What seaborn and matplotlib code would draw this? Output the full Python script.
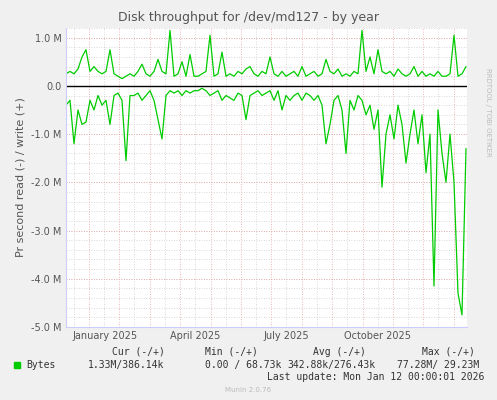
import numpy as np
import pandas as pd
import matplotlib
matplotlib.use("Agg")
import matplotlib.pyplot as plt
import seaborn as sns

write_m = [0.25,0.3,0.25,0.35,0.6,0.75,0.3,0.4,0.3,0.25,0.3,0.75,0.25,0.2,0.15,0.2,0.25,0.2,0.3,0.45,
           0.25,0.2,0.3,0.55,0.3,0.25,1.15,0.2,0.25,0.5,0.2,0.65,0.2,0.2,0.25,0.3,1.05,0.2,0.25,0.7,
           0.2,0.25,0.2,0.3,0.25,0.35,0.4,0.25,0.2,0.3,0.25,0.6,0.25,0.2,0.3,0.2,0.25,0.3,0.2,0.4,
           0.2,0.25,0.3,0.2,0.25,0.55,0.3,0.25,0.35,0.2,0.25,0.2,0.3,0.25,1.15,0.3,0.6,0.25,0.75,0.3,
           0.25,0.3,0.2,0.35,0.25,0.2,0.25,0.4,0.2,0.3,0.2,0.25,0.2,0.3,0.2,0.2,0.25,1.05,0.2,0.25,0.4]
read_m = [0.4,0.3,1.2,0.5,0.8,0.75,0.3,0.5,0.2,0.4,0.3,0.8,0.2,0.15,0.3,1.55,0.2,0.2,0.15,0.3,
          0.2,0.1,0.3,0.7,1.1,0.2,0.1,0.15,0.1,0.2,0.1,0.15,0.1,0.1,0.05,0.1,0.2,0.15,0.1,0.3,
          0.2,0.25,0.3,0.15,0.2,0.7,0.2,0.15,0.1,0.2,0.15,0.1,0.3,0.1,0.5,0.2,0.3,0.2,0.15,0.3,
          0.15,0.2,0.3,0.2,0.4,1.2,0.8,0.3,0.2,0.5,1.4,0.3,0.5,0.2,0.3,0.6,0.4,0.9,0.5,2.1,
          1.0,0.6,1.1,0.4,0.8,1.6,1.0,0.5,1.2,0.6,1.8,1.0,4.15,0.5,1.4,2.0,1.0,2.0,4.3,4.75,1.3]
month_labels = ["January 2025", "April 2025", "July 2025", "October 2025"]
yticks = [1.0, 0.0, -1.0, -2.0, -3.0, -4.0, -5.0]
ylabels = ["1.0 M", "0.0", "-1.0 M", "-2.0 M", "-3.0 M", "-4.0 M", "-5.0 M"]

days = np.arange(len(write_m)) * 4.0
df = pd.DataFrame({"day": np.concatenate([days, days]),
                   "val": np.concatenate([write_m, -np.array(read_m)]),
                   "s": ["w"] * len(days) + ["r"] * len(days)})

sns.set_style("white")
plt.rcParams['font.family'] = ['DejaVu Sans']
fig = plt.figure(figsize=(4.97, 4.0), dpi=100, facecolor="#F0F0F0")
ax = fig.add_axes([66/497, 73/400, 401/497, 299/400])
ax.set_facecolor("white")

# grid
month_starts = [23 + 30.4 * k for k in range(-1, 14)]
for y in np.arange(-5.0, 1.21, 0.2):
    ax.axhline(y, color="#cccccc", lw=0.6, ls=(0, (1, 2)), zorder=0)
for m in month_starts:
    ax.axvline(m, color="#e8a0a0", lw=0.6, ls=(0, (1, 2)), zorder=0)
    ax.axvline(m + 15, color="#cccccc", lw=0.6, ls=(0, (1, 2)), zorder=0)
for y in yticks:
    ax.axhline(y, color="#e8a0a0", lw=0.6, ls=(0, (1, 2)), zorder=0)

sns.lineplot(data=df[df.s == "w"], x="day", y="val", color="#00CC00", lw=0.9, ax=ax)
sns.lineplot(data=df[df.s == "r"], x="day", y="val", color="#00CC00", lw=0.9, ax=ax)
ax.axhline(0, color="black", lw=1.0)

ax.set_xlim(0, 401)
ax.set_ylim(-5.0, 1.2)
ax.set_yticks(yticks)
ax.set_yticklabels(ylabels)
ax.set_xticks([23 + 16, 23 + 90 + 16, 23 + 181 + 16, 23 + 273 + 16])
ax.set_xticklabels(month_labels)
ax.tick_params(labelsize=7, colors="#555555", length=0, pad=3)
ax.set_xlabel("")
ax.set_ylabel("Pr second read (-) / write (+)", fontsize=8, color="#555555")
for sp in ["top", "right"]:
    ax.spines[sp].set_visible(False)
for sp in ["left", "bottom"]:
    ax.spines[sp].set_color("#ccccff")

fig.text(0.5, 1 - 18/400, "Disk throughput for /dev/md127 - by year", ha="center", va="center",
         fontsize=9, color="#555555")
fig.text(488/497, 0.5 + 0.33, "RRDTOOL / TOBI OETIKER", rotation=270, ha="center", va="top",
         fontsize=5, color="#bbbbbb")
mono = dict(family="DejaVu Sans Mono", fontsize=7, color="#333333")
fig.text(112/497, 1 - 352/400, "Cur (-/+)", ha="left", va="center", **mono)
fig.text(205/497, 1 - 352/400, "Min (-/+)", ha="left", va="center", **mono)
fig.text(313/497, 1 - 352/400, "Avg (-/+)", ha="left", va="center", **mono)
fig.text(422/497, 1 - 352/400, "Max (-/+)", ha="left", va="center", **mono)
fig.patches.append(plt.Rectangle((14/497, 1 - 368/400), 6/497, 6/400, color="#00CC00",
                                 transform=fig.transFigure, figure=fig))
fig.text(26/497, 1 - 365/400, "Bytes", ha="left", va="center", **mono)
fig.text(88/497, 1 - 365/400, "1.33M/386.14k", ha="left", va="center", **mono)
fig.text(205/497, 1 - 365/400, "0.00 / 68.73k", ha="left", va="center", **mono)
fig.text(287/497, 1 - 365/400, "342.88k/276.43k", ha="left", va="center", **mono)
fig.text(397/497, 1 - 365/400, "77.28M/ 29.23M", ha="left", va="center", **mono)
fig.text(484/497, 1 - 377/400, "Last update: Mon Jan 12 00:00:01 2026", ha="right", va="center", **mono)
fig.text(0.5, 1 - 390/400, "Munin 2.0.76", ha="center", va="center", fontsize=5, color="#bbbbbb")

fig.savefig("out.png", dpi=100, facecolor=fig.get_facecolor())
